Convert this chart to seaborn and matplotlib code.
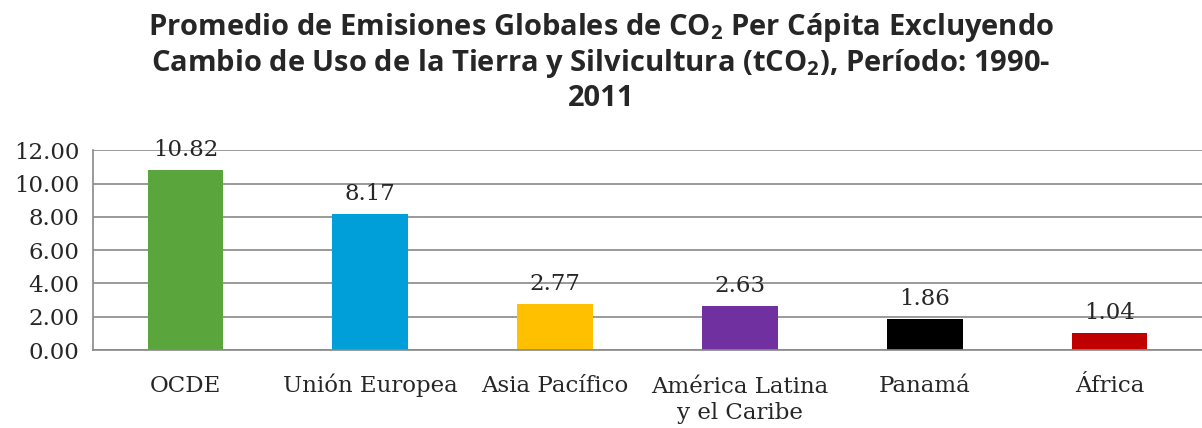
import pandas as pd
import matplotlib.pyplot as plt
import matplotlib.transforms as mtransforms
import seaborn as sns

# Datos
regiones = ["OCDE", "Unión Europea", "Asia Pacífico", "América Latina\ny el Caribe", "Panamá", "África"]
emisiones = [10.82, 8.17, 2.77, 2.63, 1.86, 1.04]
colores = ["#5aa63c", "#009fd9", "#ffc000", "#7030a0", "#000000", "#c00000"]
y_ticks = [0, 2, 4, 6, 8, 10, 12]

df = pd.DataFrame({"region": regiones, "valor": emisiones})

sns.set_style("white")
plt.rcParams["font.family"] = ["DejaVu Serif"]
plt.rcParams["mathtext.fontset"] = "custom"
plt.rcParams["mathtext.rm"] = "Open Sans:bold"
plt.rcParams["mathtext.bf"] = "Open Sans:bold"

fig = plt.figure(figsize=(12.02, 4.28), dpi=100)
ax = fig.add_axes([0.0774, 0.182, 0.9226, 0.467])

sns.barplot(x="region", y="valor", data=df, hue="region", palette=colores,
            legend=False, width=0.41, saturation=1, linewidth=0, ax=ax)

for i, v in enumerate(emisiones):
    ax.text(i, v + 0.55, f"{v:.2f}", ha="center", va="bottom", fontsize=16.5)

ax.set_ylim(0, 12)
ax.set_xlim(-0.5, len(regiones) - 0.5)
ax.set_yticks(y_ticks)
ax.set_yticklabels([f"{t:.2f}" for t in y_ticks], fontsize=16.5)
ax.yaxis.grid(True, color="#898989", linewidth=1.2)
ax.set_axisbelow(True)

ax.set_xticks([i - 0.5 for i in range(len(regiones) + 1)], minor=False)
ax.set_xticklabels([])
ax.set_xticks(range(len(regiones)), minor=True)
ax.set_xticklabels(regiones, minor=True, fontsize=16.5, va="baseline")
ax.tick_params(axis="x", which="major", length=8, width=1.2, color="#898989", direction="out")
ax.tick_params(axis="x", which="minor", length=0, pad=30)
ax.tick_params(axis="y", length=6, width=1.2, color="#898989", direction="out", pad=4)

# baseline del primer renglón alineado con las demás etiquetas
for lbl in ax.get_xticklabels(minor=True):
    if "\n" in lbl.get_text():
        lbl.set_transform(lbl.get_transform() +
                          mtransforms.ScaledTranslation(0, -0.27, fig.dpi_scale_trans))

for s in ["top", "right"]:
    ax.spines[s].set_visible(False)
for s in ["left", "bottom"]:
    ax.spines[s].set_color("#898989")
    ax.spines[s].set_linewidth(1.2)

ax.set_xlabel("")
ax.set_ylabel("")

fig.text(0.5, 0.975,
         "Promedio de Emisiones Globales de CO$_2$ Per Cápita Excluyendo\n"
         "Cambio de Uso de la Tierra y Silvicultura (tCO$_2$), Período: 1990-\n"
         "2011",
         ha="center", va="top", fontsize=21, fontweight="bold",
         family=["Open Sans", "DejaVu Sans"], linespacing=1.15)

plt.savefig("out.png", dpi=100)
plt.close()
